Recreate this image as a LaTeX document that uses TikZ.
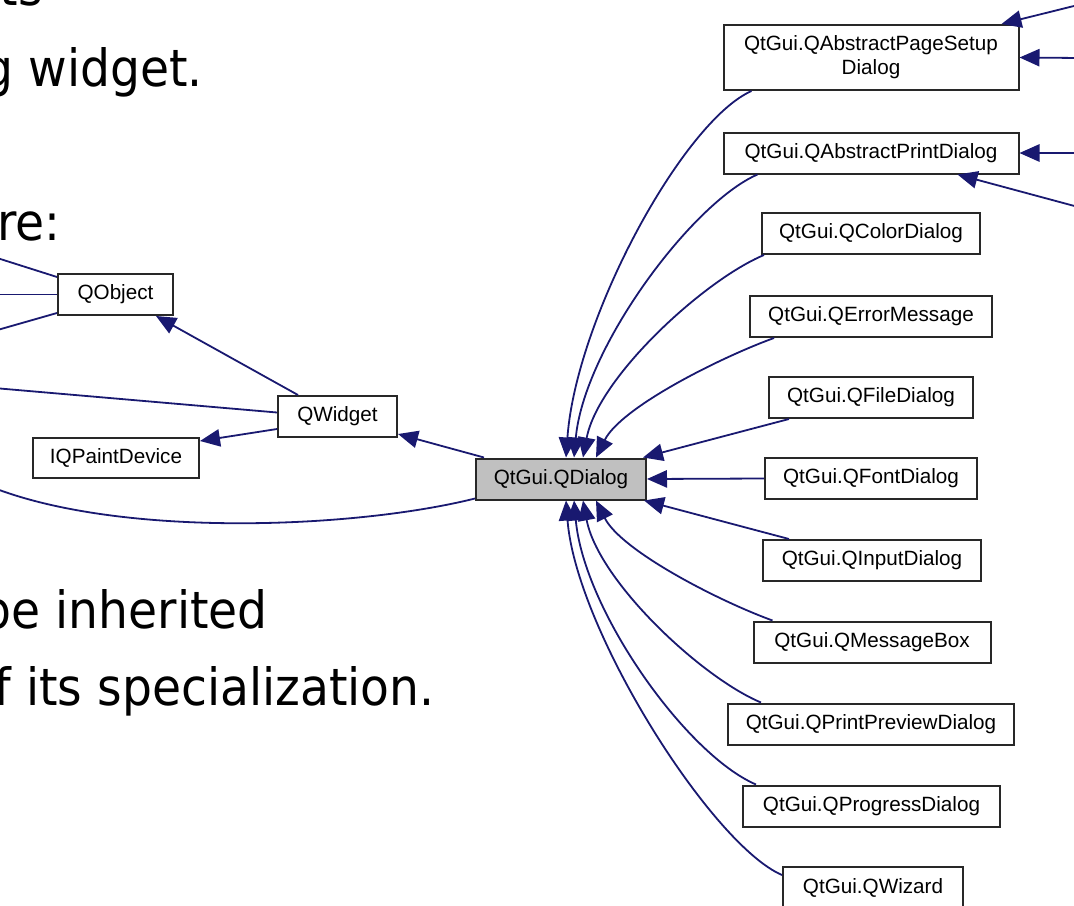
\documentclass[tikz,border=0pt]{standalone}
\usepackage{fontspec}
\usetikzlibrary{arrows.meta,calc}
\newfontfamily\nodefont{Liberation Sans}
\newfontfamily\slidefont[FakeStretch=0.92]{DejaVu Sans}
\definecolor{edgeblue}{RGB}{25,25,112}
\definecolor{boxline}{RGB}{40,40,40}
\definecolor{dlgfill}{RGB}{192,192,192}
\begin{document}
\begin{tikzpicture}[x=0.75pt,y=-0.75pt,
  cls/.style={draw=boxline,line width=1.5pt,fill=white,inner sep=0pt,
    minimum height=30.75pt,font=\nodefont\fontsize{15.5}{18}\selectfont,align=center},
  edge/.style={draw=edgeblue,line width=1.35pt,-{Triangle[length=15pt,width=13pt]}},
  plain/.style={draw=edgeblue,line width=1.35pt},
  slide/.style={font=\slidefont\fontsize{38.5}{46}\selectfont,inner sep=0pt,anchor=base east}]
\useasboundingbox (0,0) rectangle (1074,906);
\clip (0,0) rectangle (1074,906);
% slide text fragments
\node[slide] (t1) at (43,6) {ts};
\node[slide] (t2) at (203,87) {g widget.};
\node[slide] (t3) at (61,240) {re:};
\node[slide] (t4) at (268,628) {be inherited};
\node[slide] (t5) at (435,705) {f its specialization.};
% nodes
\node[cls,minimum width=221.25pt,minimum height=48.75pt] (apsd) at (871,57.5) {QtGui.QAbstractPageSetup\\Dialog};
\node[cls,minimum width=221.25pt] (apd) at (871,153) {QtGui.QAbstractPrintDialog};
\node[cls,minimum width=163.5pt] (color) at (871,233.5) {QtGui.QColorDialog};
\node[cls,minimum width=181.5pt] (error) at (871,316.5) {QtGui.QErrorMessage};
\node[cls,minimum width=153pt] (file) at (871,397.5) {QtGui.QFileDialog};
\node[cls,minimum width=159pt] (fontd) at (871,478.5) {QtGui.QFontDialog};
\node[cls,minimum width=163.5pt] (input) at (872,560.5) {QtGui.QInputDialog};
\node[cls,minimum width=177.75pt] (msg) at (872,642) {QtGui.QMessageBox};
\node[cls,minimum width=214.5pt] (ppd) at (871,724) {QtGui.QPrintPreviewDialog};
\node[cls,minimum width=192.75pt] (prog) at (871.5,806) {QtGui.QProgressDialog};
\node[cls,minimum width=135pt] (wiz) at (873,887.5) {QtGui.QWizard};
\node[cls,minimum width=127.5pt,fill=dlgfill] (dialog) at (561,479) {QtGui.QDialog};
\node[cls,minimum width=89.25pt] (widget) at (337.5,416.5) {QWidget};
\node[cls,minimum width=86.25pt] (qobject) at (115.5,294.5) {QObject};
\node[cls,minimum width=124.5pt,minimum height=30pt] (paint) at (116,458) {IQPaintDevice};
% off-picture ends
\coordinate (r1) at (1080,4.5);
\coordinate (r2) at (1080,58);
\coordinate (r3) at (1080,153);
\coordinate (r4) at (1080,207.5);
\coordinate (l1) at (-6,257);
\coordinate (l2) at (-6,294.5);
\coordinate (l3) at (-6,331);
\coordinate (l4) at (-6,388);
\coordinate (l5) at (-6,488);
% right incoming edges
\draw[edge] (r1) -- ($(apsd.north east)+(-18,0)$);
\draw[edge] (r2) -- (apsd.east);
\draw[edge] (r3) -- (apd.east);
\draw[edge] (r4) -- ($(apd.south east)+(-62,0)$);
% left outgoing lines
\draw[plain] ($(qobject.north west)+(0,4)$) -- (l1);
\draw[plain] (qobject.west) -- (l2);
\draw[plain] ($(qobject.south west)+(0,-3)$) -- (l3);
\draw[plain] ($(widget.west)+(0,-4)$) -- (l4);
\draw[plain] ($(dialog.south west)+(0,-2)$) .. controls +(-120,30) and +(130,50) .. (l5);
% inheritance among left nodes
\draw[edge] ($(dialog.north west)+(9,0)$) -- ($(widget.south east)+(0,-4)$);
\draw[edge] ($(widget.north west)+(21,0)$) -- ($(qobject.south east)+(-18,0)$);
\draw[edge] ($(widget.south west)+(0,-9)$) -- ($(paint.north east)+(0,4)$);
% subclasses into QDialog
\draw[edge] ($(apsd.south west)+(29,0)$) .. controls +(-68,30) and +(10,-140) .. ($(dialog.north west)+(91,0)$);
\draw[edge] ($(apd.south west)+(35,0)$) .. controls +(-65,28) and +(10,-110) .. ($(dialog.north west)+(99,0)$);
\draw[edge] ($(color.south west)+(3,0)$) .. controls +(-60,25) and +(15,-80) .. ($(dialog.north west)+(108,0)$);
\draw[edge] ($(error.south west)+(25,0)$) .. controls +(-55,20) and +(25,-50) .. ($(dialog.north west)+(121,0)$);
\draw[edge] ($(file.south west)+(21,0)$) -- ($(dialog.north east)+(-4,0)$);
\draw[edge] (fontd.west) -- (dialog.east);
\draw[edge] ($(input.north west)+(27,0)$) -- ($(dialog.south east)+(-3,0)$);
\draw[edge] ($(msg.north west)+(20,0)$) .. controls +(-55,-20) and +(25,50) .. ($(dialog.south west)+(121,0)$);
\draw[edge] ($(ppd.north west)+(34,0)$) .. controls +(-60,-25) and +(15,80) .. ($(dialog.south west)+(108,0)$);
\draw[edge] ($(prog.north west)+(14,0)$) .. controls +(-70,-30) and +(10,110) .. ($(dialog.south west)+(99,0)$);
\draw[edge] ($(wiz.north west)+(0,9)$) .. controls +(-70,-30) and +(10,130) .. ($(dialog.south west)+(91,0)$);
\end{tikzpicture}
\end{document}
